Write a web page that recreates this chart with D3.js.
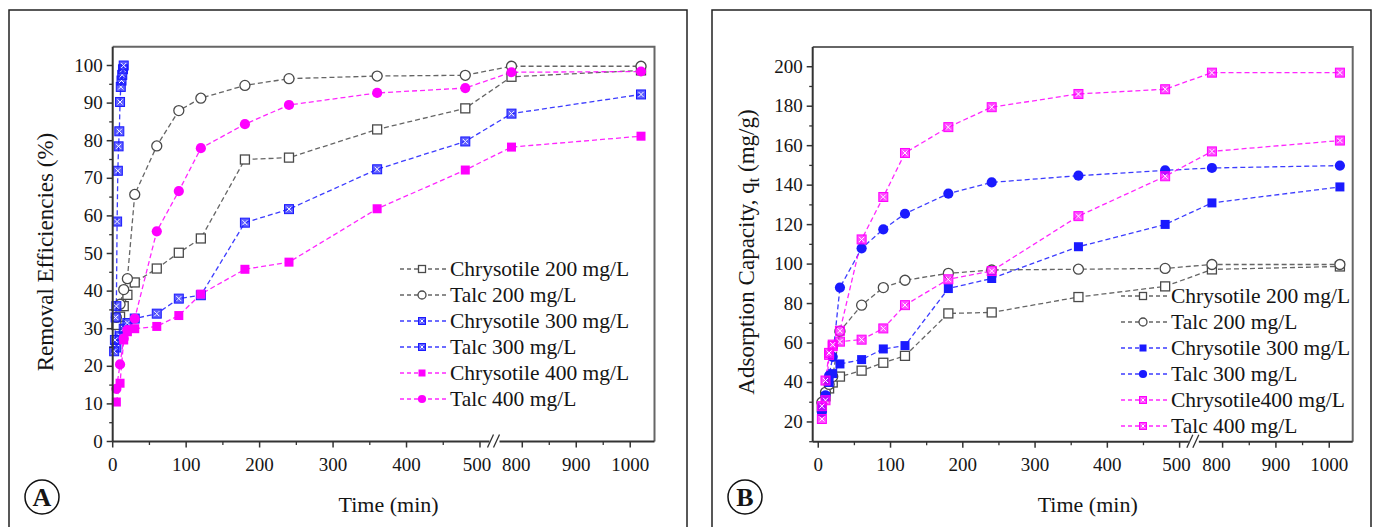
<!DOCTYPE html>
<html>
<head>
<meta charset="utf-8">
<script src="https://cdn.jsdelivr.net/npm/d3@7"></script>
<style>
body { margin: 0; background: #fff; }
</style>
</head>
<body>
<script>
// ---- data ----
var times = [5, 10, 15, 20, 30, 60, 90, 120, 180, 240, 360, 480, 780, 1020];
var talc300TimesA = [2, 3, 4, 5, 6, 7, 8, 9, 10, 11, 12, 13, 14, 15];

// panel A : removal efficiency (%)
var chry200A = [31, 33.2, 36, 39, 42.3, 46, 50.2, 54, 75, 75.5, 83, 88.6, 97, 98.7];
var talc200A = [33, 36.5, 40.4, 43.3, 65.7, 78.6, 88, 91.3, 94.7, 96.5, 97.2, 97.4, 99.8, 99.8];
var chry300A = [25, 28, 30, 31.5, 32.7, 34, 38, 38.9, 58.2, 61.8, 72.4, 79.8, 87.2, 92.3];
var talc300A = [24, 27, 33, 36, 58.5, 72, 78.5, 82.5, 90.3, 94.3, 96, 97.5, 99, 100];
var chry400A = [10.5, 15.5, 27, 29.2, 30, 30.6, 33.5, 39.2, 45.8, 47.7, 61.9, 72.2, 78.3, 81.2];
var talc400A = [14, 20.5, 27.4, 29.6, 32.7, 55.9, 66.6, 78, 84.4, 89.5, 92.7, 94, 98.2, 98.4];

// panel B : adsorption capacity (mg/g)
var chry200B = [27.5, 33, 37, 40, 43, 46, 50, 53.5, 75, 75.5, 83.3, 88.7, 97.3, 98.8];
var talc200B = [30, 35, 39, 43, 66, 79.2, 88.1, 91.8, 95.3, 97, 97.4, 97.8, 99.8, 99.8];
var chry300B = [27.5, 33, 40, 44.5, 49.4, 51.6, 57, 58.7, 87.6, 92.7, 108.8, 120.1, 131, 139.1];
var talc300B = [25, 33.5, 43.5, 53, 88.1, 108, 117.6, 125.5, 135.7, 141.4, 144.8, 147.5, 148.7, 149.9];
var chry400B = [21.5, 31, 54, 58.4, 60.7, 61.7, 67.4, 79.2, 92.3, 96.5, 124.3, 144.5, 157.1, 162.6];
var talc400B = [28, 41, 55, 59.2, 66.2, 112.5, 134, 156.3, 169.4, 179.5, 186.2, 188.6, 197, 197];

var xTicksMajor = [0, 100, 200, 300, 400, 500, 800, 900, 1000];
var xTicksMinor = [50, 150, 250, 350, 450, 850, 950];
var yTicksA = [0, 10, 20, 30, 40, 50, 60, 70, 80, 90, 100];
var yMinorA = [5, 15, 25, 35, 45, 55, 65, 75, 85, 95];
var yTicksB = [20, 40, 60, 80, 100, 120, 140, 160, 180, 200];
var yMinorB = [10, 30, 50, 70, 90, 110, 130, 150, 170, 190];

var GRAY = "#4a4a4a", BLUE = "#1a1aff", MAG = "#ff00ff";
var SERIF = "'Liberation Serif'";

var seriesA = [
  { name: "Chrysotile 200 mg/L", t: times, v: chry200A, color: GRAY, mark: "sqOpen" },
  { name: "Talc 200 mg/L", t: times, v: talc200A, color: GRAY, mark: "circOpen" },
  { name: "Chrysotile 300 mg/L", t: times, v: chry300A, color: BLUE, mark: "sqCross" },
  { name: "Talc 300 mg/L", t: talc300TimesA, v: talc300A, color: BLUE, mark: "sqCross" },
  { name: "Chrysotile 400 mg/L", t: times, v: chry400A, color: MAG, mark: "sqFill" },
  { name: "Talc 400 mg/L", t: times, v: talc400A, color: MAG, mark: "circFill" }
];
var seriesB = [
  { name: "Chrysotile 200 mg/L", t: times, v: chry200B, color: GRAY, mark: "sqOpen" },
  { name: "Talc 200 mg/L", t: times, v: talc200B, color: GRAY, mark: "circOpen" },
  { name: "Chrysotile 300 mg/L", t: times, v: chry300B, color: BLUE, mark: "sqFill" },
  { name: "Talc 300 mg/L", t: times, v: talc300B, color: BLUE, mark: "circFill" },
  { name: "Chrysotile400 mg/L", t: times, v: chry400B, color: MAG, mark: "sqCross" },
  { name: "Talc 400 mg/L", t: times, v: talc400B, color: MAG, mark: "sqCross" }
];

var svg = d3.select("body").append("svg")
  .attr("width", 1378)
  .attr("height", 527);

// every label goes through this so the serif face is set inline
function label(g, size) {
  return g.append("text").style("font-family", SERIF).style("font-size", size + "px").style("fill", "#151515");
}

function marker(g, type, color, cx, cy, s) {
  var h = s / 2;
  if (type == "sqOpen") {
    g.append("rect").attr("x", cx - h).attr("y", cy - h).attr("width", s).attr("height", s)
      .attr("fill", "#fff").attr("stroke", color).attr("stroke-width", 1.3);
  } else if (type == "circOpen") {
    g.append("circle").attr("cx", cx).attr("cy", cy).attr("r", h + 0.5)
      .attr("fill", "#fff").attr("stroke", color).attr("stroke-width", 1.3);
  } else if (type == "sqFill") {
    g.append("rect").attr("x", cx - h).attr("y", cy - h).attr("width", s).attr("height", s)
      .attr("fill", color);
  } else if (type == "circFill") {
    g.append("circle").attr("cx", cx).attr("cy", cy).attr("r", h + 0.6).attr("fill", color);
  } else if (type == "sqCross") {
    g.append("rect").attr("x", cx - h).attr("y", cy - h).attr("width", s).attr("height", s)
      .attr("fill", color).attr("fill-opacity", 0.7).attr("stroke", color).attr("stroke-width", 1);
    var k = h - 2;
    g.append("path")
      .attr("d", "M" + (cx - k) + "," + (cy - k) + "L" + (cx + k) + "," + (cy + k) +
                 "M" + (cx - k) + "," + (cy + k) + "L" + (cx + k) + "," + (cy - k))
      .attr("stroke", "#fff").attr("stroke-width", 1);
  }
}

function drawPanel(p) {
  var g = svg.append("g");

  // outer panel box
  g.append("rect").attr("x", p.box[0]).attr("y", p.box[1]).attr("width", p.box[2]).attr("height", p.box[3])
    .attr("fill", "none").attr("stroke", "#222").attr("stroke-width", 1.5);

  var x = d3.scaleLinear().domain(p.xDomain).range(p.xRange);
  var y = d3.scaleLinear().domain(p.yDomain).range([p.bottom, p.top]);
  var left = p.xRange[0], right = p.xRange[3];

  // frame (top / right)
  g.append("path")
    .attr("d", "M" + left + "," + p.top + "H" + right + "V" + p.bottom)
    .attr("fill", "none").attr("stroke", "#666").attr("stroke-width", 2);

  // series lines + markers
  var line = d3.line().x(function (d) { return x(d[0]); }).y(function (d) { return y(d[1]); });
  p.series.forEach(function (s) {
    var pts = s.t.map(function (t, i) { return [t, s.v[i]]; });
    g.append("path").datum(pts).attr("d", line)
      .attr("fill", "none").attr("stroke", s.color).attr("stroke-width", 1.3)
      .attr("stroke-dasharray", "5,3").attr("stroke-opacity", 0.85);
  });
  p.series.forEach(function (s) {
    s.t.forEach(function (t, i) { marker(g, s.mark, s.color, x(t), y(s.v[i]), 9); });
  });

  // axes
  var ax = g.append("g").attr("stroke", "#333");
  ax.append("line").attr("x1", left).attr("x2", left).attr("y1", p.top).attr("y2", p.bottom).attr("stroke-width", 2);
  ax.append("line").attr("x1", left).attr("x2", right).attr("y1", p.bottom).attr("y2", p.bottom).attr("stroke-width", 2);
  ax.selectAll(".ymaj").data(p.yTicks).enter().append("line")
    .attr("x1", left - 6).attr("x2", left).attr("y1", function (d) { return y(d); }).attr("y2", function (d) { return y(d); })
    .attr("stroke-width", 1.5);
  ax.selectAll(".ymin").data(p.yMinor).enter().append("line")
    .attr("x1", left - 3.5).attr("x2", left).attr("y1", function (d) { return y(d); }).attr("y2", function (d) { return y(d); })
    .attr("stroke-width", 1.3);
  ax.selectAll(".xmaj").data(xTicksMajor).enter().append("line")
    .attr("x1", function (d) { return x(d); }).attr("x2", function (d) { return x(d); })
    .attr("y1", p.bottom).attr("y2", p.bottom + 6).attr("stroke-width", 1.5);
  ax.selectAll(".xmin").data(xTicksMinor).enter().append("line")
    .attr("x1", function (d) { return x(d); }).attr("x2", function (d) { return x(d); })
    .attr("y1", p.bottom).attr("y2", p.bottom + 3.5).attr("stroke-width", 1.3);

  p.yTicks.forEach(function (d) {
    label(g, 19).attr("x", left - 10).attr("y", y(d) + 6).attr("text-anchor", "end").text(d);
  });
  xTicksMajor.forEach(function (d) {
    label(g, 19).attr("x", x(d) + (d == 500 ? -3 : d == 800 ? -6 : 0)).attr("y", p.bottom + 29)
      .attr("text-anchor", "middle").text(d);
  });

  // axis break
  var bx = (x(515) + x(755)) / 2;
  g.append("rect").attr("x", bx - 5).attr("y", p.bottom - 3).attr("width", 10).attr("height", 6).attr("fill", "#fff");
  g.append("path")
    .attr("d", "M" + (bx - 7) + "," + (p.bottom + 6) + "L" + (bx - 1) + "," + (p.bottom - 7) +
               "M" + (bx - 1) + "," + (p.bottom + 6) + "L" + (bx + 5) + "," + (p.bottom - 7))
    .attr("stroke", "#333").attr("stroke-width", 1.3).attr("fill", "none");

  // titles
  label(g, 22).attr("x", (left + right) / 2 + 5).attr("y", 512)
    .attr("text-anchor", "middle").text("Time (min)");
  var yt = label(g, 23).attr("transform", "translate(" + p.yTitleX + ",252) rotate(-90)")
    .attr("text-anchor", "middle");
  p.yTitle(yt);

  // panel letter
  g.append("circle").attr("cx", p.letterX).attr("cy", 497).attr("r", 17)
    .attr("fill", "#fff").attr("stroke", "#111").attr("stroke-width", 1.5);
  label(g, 26).attr("x", p.letterX).attr("y", 506).attr("text-anchor", "middle")
    .style("font-weight", "bold").text(p.letter);

  // legend
  var lg = g.append("g");
  p.series.forEach(function (s, i) {
    var ly = p.legY + i * 26;
    lg.append("line").attr("x1", p.legX).attr("x2", p.legX + 46).attr("y1", ly).attr("y2", ly)
      .attr("stroke", s.color).attr("stroke-width", 1.3).attr("stroke-dasharray", "4,3").attr("stroke-opacity", 0.85);
    marker(lg, s.mark, s.color, p.legX + 22, ly, 7);
    label(lg, 21.5).attr("x", p.legX + 50).attr("y", ly + 7).text(s.name);
  });
}

drawPanel({
  box: [9, 10, 678, 530],
  xDomain: [0, 515, 755, 1045], xRange: [112.7, 491, 498, 654.5],
  yDomain: [0, 105], top: 46.7, bottom: 441.5,
  yTicks: yTicksA, yMinor: yMinorA,
  series: seriesA,
  yTitleX: 53,
  yTitle: function (t) { t.text("Removal Efficiencies (%)"); },
  letter: "A", letterX: 42,
  legX: 400, legY: 269
});

drawPanel({
  box: [712, 10, 659, 530],
  xDomain: [-7.7, 513, 752, 1044], xRange: [812.7, 1189, 1197, 1352.7],
  yDomain: [10, 210], top: 47, bottom: 441.7,
  yTicks: yTicksB, yMinor: yMinorB,
  series: seriesB,
  yTitleX: 754,
  yTitle: function (t) {
    t.append("tspan").text("Adsorption Capacity, q");
    t.append("tspan").style("font-size", "16px").attr("dy", 5).text("t");
    t.append("tspan").attr("dy", -5).text(" (mg/g)");
  },
  letter: "B", letterX: 745,
  legX: 1121, legY: 296
});
</script>
</body>
</html>
